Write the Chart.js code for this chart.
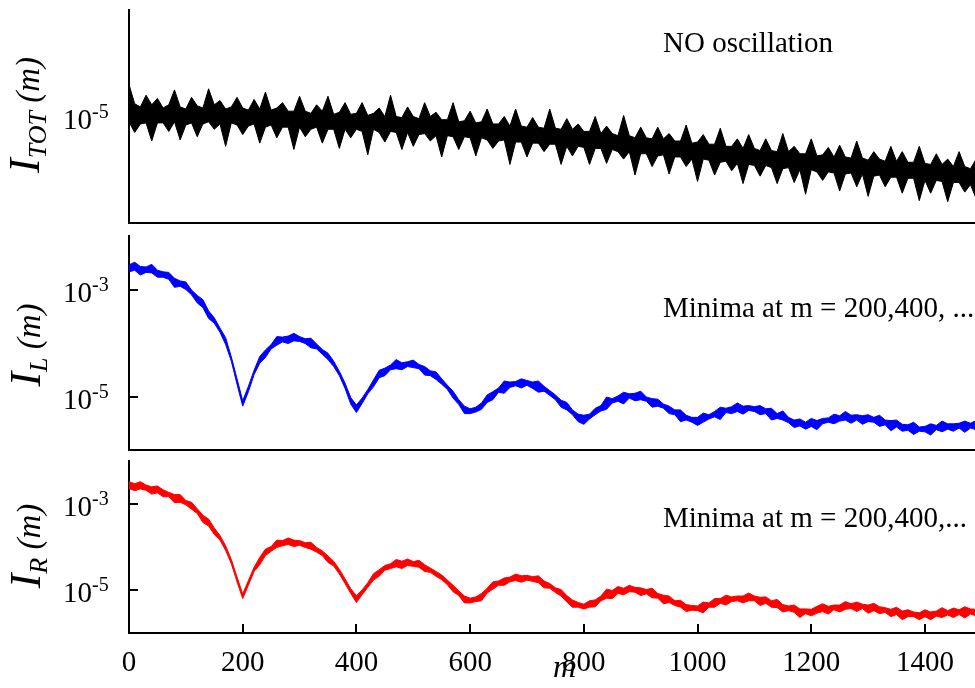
<!DOCTYPE html>
<html>
<head>
<meta charset="utf-8">
<script src="https://cdn.jsdelivr.net/npm/chart.js@4.4.1/dist/chart.umd.min.js"></script>
<style>
  body { margin: 0; background: #fff; width: 975px; height: 688px; overflow: hidden; position: relative; font-family: "Liberation Serif", serif; }
  .panel { position: absolute; left: 0; width: 975px; }
  .lbl { position: absolute; font-size: 29px; line-height: 1; white-space: nowrap; color: #000; }
  .ytitle { position: absolute; transform: translate(-50%, -50%) rotate(-90deg); font-style: italic; white-space: nowrap; line-height: 1; font-size: 33px; color: #000; }
  .ytitle .big { font-size: 44px; }
  .ytitle sub { font-size: 26px; vertical-align: -0.25em; }
  .xtitle { position: absolute; font-style: italic; font-size: 32px; line-height: 1; color: #000; }
</style>
</head>
<body>
<div class="panel" style="top:0;height:230px"><canvas id="totChart"></canvas></div>
<div class="panel" style="top:230px;height:225px"><canvas id="leftChart"></canvas></div>
<div class="panel" style="top:455px;height:233px"><canvas id="rightChart"></canvas></div>

<div class="ytitle" style="left:27px;top:115px"><span class="big">I</span><sub>TOT</sub> (m)</div>
<div class="ytitle" style="left:28px;top:345px"><span class="big">I</span><sub>L</sub> (m)</div>
<div class="ytitle" style="left:28px;top:546px"><span class="big">I</span><sub>R</sub> (m)</div>
<div class="lbl" style="left:663px;top:28px">NO oscillation</div>
<div class="lbl" style="left:663px;top:293px">Minima at m = 200,400, ...</div>
<div class="lbl" style="left:663px;top:503px">Minima at m = 200,400,...</div>
<div class="xtitle" style="left:553px;top:650px">m</div>

<script>
// m runs 0..1490 in steps of 10; values are log10 of the intensity
const mStep = 10;

// I_TOT: centre of the black band and how far the spikes reach up/down (decades)
const totCenter = [
  -4.97,-4.96,-4.98,-4.99,-4.97,-4.98,-4.99,-4.98,-4.97,-4.99,
  -5.00,-4.99,-4.98,-4.99,-4.98,-4.97,-4.99,-5.00,-4.99,-5.00,
  -5.00,-5.01,-5.00,-5.01,-5.02,-5.01,-5.00,-5.02,-5.03,-5.02,
  -5.02,-5.03,-5.04,-5.03,-5.03,-5.04,-5.05,-5.04,-5.04,-5.05,
  -5.05,-5.06,-5.06,-5.05,-5.07,-5.07,-5.06,-5.08,-5.08,-5.07,
  -5.08,-5.09,-5.09,-5.08,-5.10,-5.10,-5.11,-5.11,-5.12,-5.12,
  -5.12,-5.13,-5.13,-5.14,-5.14,-5.15,-5.15,-5.16,-5.16,-5.17,
  -5.17,-5.17,-5.18,-5.18,-5.18,-5.19,-5.19,-5.20,-5.20,-5.21,
  -5.21,-5.22,-5.22,-5.23,-5.24,-5.24,-5.25,-5.25,-5.26,-5.27,
  -5.27,-5.28,-5.28,-5.29,-5.29,-5.30,-5.30,-5.31,-5.31,-5.32,
  -5.32,-5.33,-5.33,-5.34,-5.35,-5.35,-5.36,-5.36,-5.37,-5.38,
  -5.38,-5.39,-5.39,-5.40,-5.40,-5.41,-5.41,-5.42,-5.42,-5.43,
  -5.43,-5.44,-5.44,-5.45,-5.45,-5.46,-5.46,-5.46,-5.47,-5.47,
  -5.48,-5.48,-5.48,-5.49,-5.49,-5.50,-5.50,-5.50,-5.51,-5.51,
  -5.52,-5.52,-5.53,-5.53,-5.54,-5.54,-5.55,-5.55,-5.56,-5.56
];
const totUp = [
  0.27,0.08,0.07,0.19,0.08,0.15,0.07,0.09,0.22,0.08,
  0.07,0.17,0.08,0.07,0.24,0.08,0.14,0.07,0.08,0.18,
  0.08,0.07,0.16,0.08,0.25,0.07,0.08,0.15,0.08,0.07,
  0.21,0.08,0.07,0.14,0.08,0.23,0.07,0.08,0.17,0.07,
  0.08,0.19,0.07,0.08,0.15,0.07,0.26,0.08,0.07,0.16,
  0.08,0.07,0.22,0.08,0.14,0.07,0.08,0.24,0.07,0.08,
  0.17,0.07,0.08,0.21,0.07,0.08,0.15,0.07,0.23,0.08,
  0.07,0.16,0.08,0.07,0.25,0.08,0.07,0.18,0.08,0.14,
  0.07,0.08,0.22,0.07,0.15,0.08,0.07,0.26,0.08,0.07,
  0.17,0.08,0.07,0.19,0.08,0.14,0.07,0.08,0.23,0.07,
  0.08,0.16,0.07,0.08,0.24,0.07,0.08,0.15,0.07,0.21,
  0.08,0.07,0.18,0.08,0.07,0.25,0.08,0.14,0.07,0.08,
  0.22,0.07,0.08,0.16,0.07,0.19,0.08,0.07,0.24,0.08,
  0.07,0.15,0.08,0.07,0.21,0.08,0.17,0.07,0.08,0.23,
  0.08,0.07,0.18,0.08,0.14,0.07,0.22,0.08,0.07,0.16
];
const totDown = [
  0.08,0.19,0.09,0.07,0.26,0.08,0.07,0.16,0.08,0.23,
  0.08,0.07,0.21,0.08,0.07,0.15,0.08,0.28,0.07,0.08,
  0.17,0.08,0.07,0.24,0.08,0.07,0.20,0.08,0.07,0.29,
  0.08,0.16,0.08,0.07,0.22,0.08,0.07,0.26,0.08,0.15,
  0.07,0.08,0.30,0.07,0.08,0.17,0.08,0.07,0.23,0.08,
  0.20,0.08,0.07,0.15,0.08,0.28,0.07,0.08,0.19,0.07,
  0.08,0.24,0.07,0.08,0.16,0.08,0.07,0.29,0.08,0.07,
  0.21,0.08,0.07,0.15,0.08,0.07,0.26,0.08,0.17,0.07,
  0.08,0.23,0.08,0.07,0.20,0.07,0.08,0.15,0.07,0.28,
  0.08,0.07,0.19,0.08,0.07,0.24,0.08,0.07,0.16,0.08,
  0.29,0.07,0.08,0.21,0.08,0.07,0.15,0.08,0.26,0.07,
  0.08,0.17,0.07,0.08,0.23,0.08,0.07,0.20,0.08,0.30,
  0.07,0.08,0.16,0.07,0.08,0.24,0.08,0.07,0.19,0.07,
  0.27,0.08,0.07,0.17,0.08,0.07,0.22,0.08,0.07,0.28,
  0.08,0.20,0.07,0.08,0.26,0.08,0.07,0.16,0.08,0.21
];

// I_L (blue)
const leftCenter = [
  -2.59,-2.60,-2.61,-2.63,-2.65,-2.68,-2.72,-2.77,-2.83,-2.89,
  -2.96,-3.05,-3.16,-3.30,-3.44,-3.58,-3.76,-3.98,-4.30,-4.72,
  -5.12,-4.86,-4.55,-4.33,-4.18,-4.07,-3.99,-3.94,-3.91,-3.91,
  -3.93,-3.96,-4.01,-4.07,-4.16,-4.27,-4.39,-4.57,-4.80,-5.06,
  -5.20,-5.08,-4.91,-4.74,-4.60,-4.51,-4.46,-4.43,-4.41,-4.40,
  -4.41,-4.44,-4.49,-4.56,-4.64,-4.72,-4.83,-4.95,-5.10,-5.22,
  -5.27,-5.25,-5.16,-5.06,-4.96,-4.88,-4.82,-4.78,-4.76,-4.75,
  -4.75,-4.77,-4.81,-4.86,-4.93,-5.02,-5.11,-5.20,-5.30,-5.37,
  -5.40,-5.37,-5.30,-5.22,-5.14,-5.08,-5.04,-5.01,-4.99,-4.99,
  -5.01,-5.05,-5.09,-5.13,-5.18,-5.23,-5.29,-5.35,-5.40,-5.43,
  -5.44,-5.43,-5.38,-5.33,-5.29,-5.26,-5.24,-5.23,-5.22,-5.22,
  -5.23,-5.25,-5.28,-5.32,-5.36,-5.40,-5.44,-5.48,-5.51,-5.53,
  -5.52,-5.49,-5.46,-5.44,-5.42,-5.41,-5.40,-5.39,-5.39,-5.40,
  -5.42,-5.44,-5.46,-5.48,-5.50,-5.53,-5.56,-5.58,-5.60,-5.61,
  -5.61,-5.60,-5.58,-5.57,-5.56,-5.55,-5.55,-5.54,-5.54,-5.54
];
const leftUp = [
  0.05,0.11,0.04,0.05,0.12,0.04,0.05,0.09,0.04,0.05,
  0.10,0.04,0.05,0.11,0.04,0.05,0.04,0.08,0.04,0.05,
  0.04,0.05,0.04,0.08,0.05,0.04,0.11,0.05,0.04,0.09,
  0.05,0.04,0.10,0.05,0.04,0.08,0.05,0.04,0.05,0.04,
  0.04,0.05,0.04,0.05,0.09,0.04,0.05,0.12,0.04,0.05,
  0.09,0.04,0.05,0.04,0.10,0.05,0.04,0.05,0.04,0.04,
  0.04,0.05,0.04,0.09,0.05,0.04,0.11,0.05,0.04,0.08,
  0.05,0.04,0.10,0.05,0.04,0.05,0.04,0.09,0.05,0.04,
  0.05,0.04,0.08,0.05,0.13,0.04,0.05,0.09,0.04,0.05,
  0.11,0.04,0.05,0.08,0.04,0.05,0.04,0.10,0.05,0.04,
  0.05,0.12,0.04,0.05,0.09,0.04,0.05,0.11,0.04,0.05,
  0.04,0.08,0.05,0.10,0.04,0.13,0.05,0.04,0.09,0.05,
  0.11,0.04,0.05,0.04,0.09,0.05,0.12,0.04,0.05,0.04,
  0.08,0.05,0.11,0.04,0.05,0.09,0.04,0.05,0.12,0.04,
  0.05,0.09,0.04,0.11,0.05,0.04,0.05,0.08,0.04,0.09
];
const leftDown = [
  0.08,0.04,0.12,0.05,0.04,0.09,0.05,0.04,0.13,0.05,
  0.04,0.05,0.09,0.04,0.10,0.05,0.04,0.05,0.04,0.05,
  0.06,0.05,0.04,0.05,0.09,0.04,0.05,0.04,0.10,0.05,
  0.04,0.05,0.08,0.04,0.05,0.04,0.05,0.04,0.05,0.08,
  0.10,0.05,0.04,0.08,0.05,0.10,0.04,0.05,0.09,0.04,
  0.05,0.04,0.11,0.05,0.04,0.05,0.04,0.08,0.05,0.10,
  0.05,0.04,0.08,0.05,0.10,0.04,0.12,0.05,0.04,0.09,
  0.04,0.08,0.11,0.04,0.05,0.04,0.09,0.05,0.04,0.10,
  0.12,0.05,0.04,0.05,0.10,0.04,0.05,0.13,0.04,0.09,
  0.05,0.04,0.11,0.05,0.04,0.09,0.05,0.12,0.04,0.05,
  0.10,0.05,0.04,0.05,0.14,0.04,0.08,0.05,0.11,0.04,
  0.05,0.09,0.04,0.12,0.05,0.04,0.05,0.10,0.04,0.08,
  0.04,0.13,0.05,0.04,0.09,0.05,0.04,0.11,0.05,0.12,
  0.05,0.04,0.10,0.05,0.14,0.04,0.09,0.05,0.11,0.04,
  0.05,0.12,0.04,0.09,0.05,0.10,0.04,0.13,0.05,0.08
];

// I_R (red)
const rightCenter = [
  -2.58,-2.58,-2.60,-2.62,-2.65,-2.69,-2.73,-2.78,-2.84,-2.90,
  -2.97,-3.06,-3.17,-3.31,-3.46,-3.61,-3.79,-4.02,-4.34,-4.76,
  -5.14,-4.84,-4.52,-4.30,-4.15,-4.04,-3.96,-3.91,-3.89,-3.89,
  -3.91,-3.95,-4.00,-4.06,-4.15,-4.26,-4.39,-4.57,-4.79,-5.03,
  -5.18,-5.06,-4.88,-4.72,-4.58,-4.49,-4.44,-4.41,-4.39,-4.38,
  -4.39,-4.42,-4.47,-4.54,-4.62,-4.71,-4.82,-4.94,-5.08,-5.19,
  -5.24,-5.22,-5.13,-5.02,-4.92,-4.84,-4.78,-4.75,-4.73,-4.72,
  -4.72,-4.74,-4.78,-4.84,-4.91,-5.00,-5.09,-5.18,-5.28,-5.35,
  -5.38,-5.35,-5.28,-5.20,-5.13,-5.07,-5.03,-5.01,-4.99,-4.99,
  -5.01,-5.04,-5.08,-5.13,-5.18,-5.24,-5.30,-5.35,-5.39,-5.42,
  -5.42,-5.40,-5.35,-5.30,-5.26,-5.23,-5.21,-5.20,-5.19,-5.19,
  -5.20,-5.22,-5.26,-5.30,-5.35,-5.39,-5.43,-5.46,-5.49,-5.50,
  -5.50,-5.48,-5.45,-5.43,-5.41,-5.40,-5.39,-5.38,-5.38,-5.38,
  -5.40,-5.42,-5.45,-5.47,-5.50,-5.52,-5.54,-5.56,-5.57,-5.58,
  -5.57,-5.56,-5.55,-5.54,-5.53,-5.52,-5.51,-5.51,-5.50,-5.50
];
const rightUp = [
  0.10,0.05,0.12,0.06,0.05,0.11,0.06,0.05,0.06,0.12,
  0.05,0.10,0.06,0.05,0.11,0.05,0.06,0.05,0.05,0.06,
  0.05,0.06,0.05,0.06,0.10,0.05,0.12,0.06,0.10,0.05,
  0.06,0.05,0.11,0.05,0.06,0.05,0.06,0.05,0.05,0.06,
  0.05,0.06,0.05,0.10,0.05,0.06,0.05,0.12,0.06,0.10,
  0.05,0.11,0.06,0.05,0.05,0.06,0.05,0.05,0.06,0.05,
  0.05,0.06,0.05,0.06,0.11,0.05,0.06,0.05,0.10,0.05,
  0.06,0.05,0.11,0.05,0.06,0.05,0.10,0.05,0.05,0.06,
  0.05,0.10,0.05,0.06,0.15,0.06,0.11,0.05,0.10,0.05,
  0.06,0.05,0.12,0.05,0.06,0.10,0.05,0.11,0.05,0.06,
  0.05,0.12,0.05,0.10,0.06,0.11,0.05,0.06,0.05,0.12,
  0.06,0.05,0.10,0.05,0.13,0.05,0.06,0.11,0.05,0.06,
  0.05,0.10,0.13,0.05,0.06,0.05,0.12,0.06,0.10,0.05,
  0.05,0.11,0.06,0.06,0.05,0.12,0.05,0.10,0.06,0.05,
  0.11,0.05,0.06,0.13,0.05,0.10,0.05,0.12,0.06,0.05
];
const rightDown = [
  0.06,0.11,0.05,0.06,0.12,0.05,0.10,0.05,0.13,0.06,
  0.05,0.06,0.05,0.12,0.05,0.10,0.05,0.06,0.05,0.05,
  0.06,0.05,0.05,0.11,0.05,0.06,0.05,0.06,0.05,0.10,
  0.05,0.06,0.05,0.06,0.05,0.10,0.05,0.06,0.06,0.05,
  0.11,0.05,0.06,0.05,0.10,0.05,0.06,0.05,0.11,0.05,
  0.06,0.05,0.10,0.05,0.06,0.05,0.06,0.10,0.05,0.11,
  0.06,0.05,0.12,0.05,0.06,0.05,0.11,0.06,0.05,0.10,
  0.05,0.06,0.05,0.11,0.05,0.06,0.05,0.10,0.12,0.05,
  0.06,0.05,0.11,0.05,0.06,0.13,0.05,0.10,0.05,0.06,
  0.12,0.05,0.10,0.06,0.14,0.05,0.06,0.05,0.11,0.05,
  0.06,0.13,0.05,0.10,0.05,0.12,0.06,0.05,0.11,0.06,
  0.05,0.14,0.05,0.10,0.06,0.12,0.05,0.06,0.15,0.05,
  0.10,0.06,0.05,0.13,0.05,0.11,0.06,0.05,0.12,0.05,
  0.14,0.06,0.10,0.05,0.12,0.05,0.15,0.06,0.05,0.11,
  0.05,0.13,0.06,0.10,0.05,0.12,0.06,0.14,0.06,0.10
];

const xTickLabels = ["0", "200", "400", "600", "800", "1000", "1200", "1400"];
const FONT = '"Liberation Serif", "Times New Roman", serif';

function band(center, offs, sign) {
  return center.map((c, i) => ({ x: i * mStep, y: Math.pow(10, c + sign * offs[i]) }));
}

// inward tick marks and 10^n labels
const axisDecor = {
  id: "axisDecor",
  beforeDatasetsDraw(chart, args, opts) {
    const ctx = chart.ctx, area = chart.chartArea;
    const ys = chart.scales.y, xs = chart.scales.x;
    ctx.save();
    ctx.strokeStyle = "#000";
    ctx.lineWidth = 2;
    opts.yTicks.forEach((v) => {
      const py = Math.round(ys.getPixelForValue(v));
      ctx.beginPath();
      ctx.moveTo(area.left, py);
      ctx.lineTo(area.left + 9, py);
      ctx.stroke();
    });
    if (opts.xTicks) {
      xs.ticks.forEach((t) => {
        const px = Math.round(xs.getPixelForValue(t.value));
        if (px <= area.left + 2) return;
        ctx.beginPath();
        ctx.moveTo(px, area.bottom);
        ctx.lineTo(px, area.bottom - 9);
        ctx.stroke();
      });
    }
    ctx.restore();
  },
  afterDraw(chart, args, opts) {
    const ctx = chart.ctx, ys = chart.scales.y;
    ctx.save();
    ctx.fillStyle = "#000";
    ctx.textBaseline = "alphabetic";
    opts.yTicks.forEach((v) => {
      const py = ys.getPixelForValue(v);
      ctx.font = "29px " + FONT;
      ctx.textAlign = "right";
      ctx.fillText("10", 92, py + 12);
      ctx.font = "20px " + FONT;
      ctx.textAlign = "left";
      ctx.fillText(String(Math.round(Math.log10(v))), 92, py + 1);
    });
    ctx.restore();
  },
};

function makePanel(id, center, up, down, color, yMin, yMax, yTicks, pad, showX) {
  return new Chart(document.getElementById(id), {
    type: "line",
    data: {
      datasets: [
        { data: band(center, down, -1), borderColor: color, backgroundColor: color, borderWidth: 1, pointRadius: 0, fill: false },
        { data: band(center, up, 1), borderColor: color, backgroundColor: color, borderWidth: 1, pointRadius: 0, fill: "-1" },
      ],
    },
    options: {
      responsive: true,
      maintainAspectRatio: false,
      animation: false,
      events: [],
      layout: { padding: pad },
      plugins: {
        legend: { display: false },
        tooltip: { enabled: false },
        axisDecor: { yTicks: yTicks, xTicks: showX },
      },
      scales: {
        x: {
          type: "linear",
          min: 0,
          max: 1488,
          grid: { drawOnChartArea: false, drawTicks: false },
          border: { color: "#000", width: 2 },
          ticks: {
            display: showX,
            stepSize: 200,
            includeBounds: false,
            autoSkip: false,
            maxRotation: 0,
            padding: 13,
            color: "#000",
            font: { family: FONT, size: 29 },
            callback: (v) => xTickLabels[v / 200],
          },
          afterFit: showX ? (s) => { s.height = 40; } : undefined,
        },
        y: {
          type: "logarithmic",
          min: yMin,
          max: yMax,
          grid: { drawOnChartArea: false, drawTicks: false },
          border: { color: "#000", width: 2 },
          ticks: { display: false },
        },
      },
    },
    plugins: [axisDecor],
  });
}

makePanel("totChart", totCenter, totUp, totDown, "#000000", 1e-6, 1e-4, [1e-5],
  { top: 10, left: 129, right: 0, bottom: 7 }, false);
makePanel("leftChart", leftCenter, leftUp, leftDown, "#0000ff", 1e-6, 1e-2, [1e-3, 1e-5],
  { top: 6, left: 129, right: 0, bottom: 5 }, false);
makePanel("rightChart", rightCenter, rightUp, rightDown, "#ff0000", 1e-6, 1e-2, [1e-3, 1e-5],
  { top: 6, left: 129, right: 0, bottom: 15 }, true);
</script>
</body>
</html>
